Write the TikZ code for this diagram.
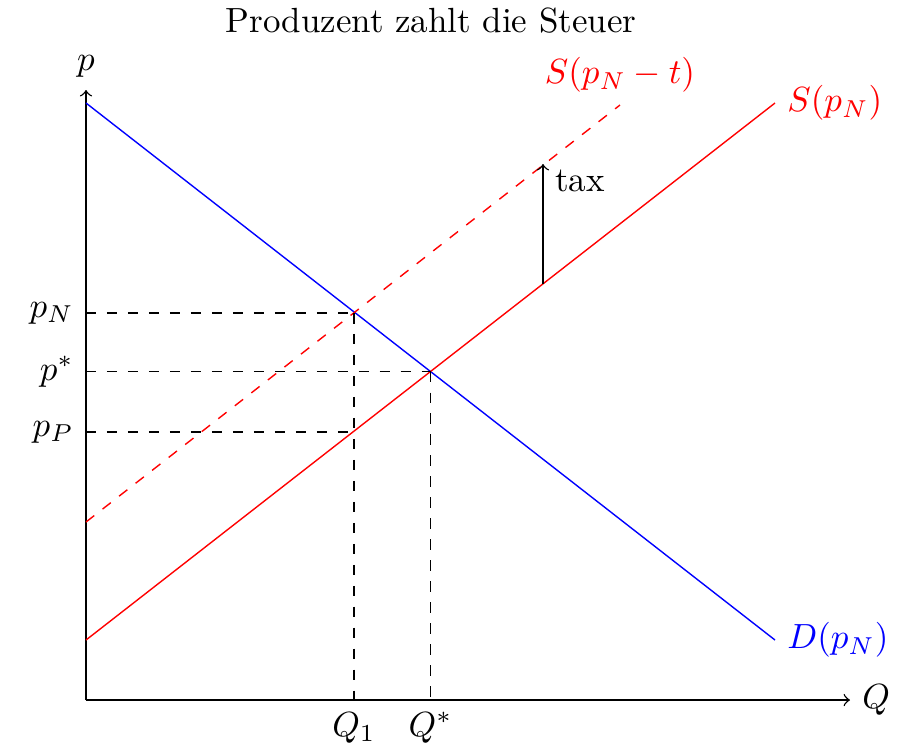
\documentclass[tikz,border=0pt]{standalone}
\begin{document}
\begin{tikzpicture}[x=0.286pt,y=-0.286pt,
  guide/.style={dashed,black},
  lbl/.style={font=\normalsize}]
\useasboundingbox (0,0) rectangle (907,748);
% points
\coordinate (O) at (86,700);
\coordinate (xend) at (850,700);
\coordinate (yend) at (86,90);
\coordinate (Dstart) at (86,103);
\coordinate (Dend) at (775,640);
\coordinate (Sstart) at (86,640);
\coordinate (Send) at (775,103);
\coordinate (Tstart) at (86,522);
\coordinate (Tend) at (620,105);
\coordinate (E1) at (354,313);
\coordinate (E0) at (430.5,371.5);
\coordinate (EP) at (354,432);
\coordinate (yN) at (86,313);
\coordinate (yS) at (86,371.5);
\coordinate (yP) at (86,432);
\coordinate (xQ1) at (354,700);
\coordinate (xQs) at (430.5,700);
\coordinate (taxlow) at (543,284);
\coordinate (taxhigh) at (543,164);
% title
\node (title) at (431,21) {Produzent zahlt die Steuer};
% axes
\draw[->] (O) -- (xend) node[right,lbl] (Qlab) {$Q$};
\draw[->] (O) -- (yend) node[above,lbl] (plab) {$p$};
% curves
\draw[blue] (Dstart) -- (Dend) node[right,lbl] (Dlab) {$D(p_N)$};
\draw[red] (Sstart) -- (Send) node[right,lbl] (Slab) {$S(p_N)$};
\draw[red,dashed] (Tstart) -- (Tend) node[above,lbl] (Tlab) {$S(p_N-t)$};
% guides
\draw[guide] (yN) node[left,lbl] (pN) {$p_N$} -- (E1);
\draw[guide] (yS) node[left,lbl] (ps) {$p^*$} -- (E0);
\draw[guide] (yP) node[left,lbl] (pP) {$p_P$} -- (EP);
\draw[guide] (E1) -- (xQ1) node[below,lbl] (Q1) {$Q_1$};
\draw[guide] (E0) -- (xQs) node[below,lbl] (Qs) {$Q^*$};
% tax
\draw[->] (taxlow) -- (taxhigh) node[below right,lbl,yshift=1.8pt] (tax) {tax};
\end{tikzpicture}
\end{document}
